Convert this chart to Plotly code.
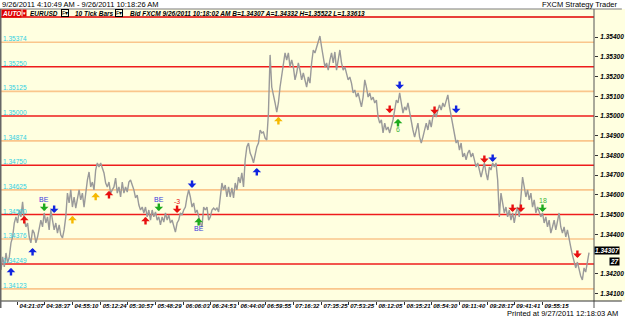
import plotly.graph_objects as go

# ---- 10-tick bar closes, EURUSD ----
close_0410_0607 = [
    1.34219, 1.34285, 1.34234, 1.34305, 1.34254, 1.34285, 1.34356, 1.34386, 1.34457, 1.34488,
    1.34457, 1.34523, 1.34488, 1.34564, 1.34472, 1.34437, 1.34457, 1.34386, 1.34356, 1.34422,
    1.34406, 1.34356, 1.34386, 1.34422, 1.34472, 1.34437, 1.34508, 1.34457, 1.34488, 1.34422,
    1.34523, 1.34472, 1.34422, 1.34457, 1.34406, 1.34447, 1.34396, 1.34381, 1.34422, 1.34488,
    1.34609, 1.34559, 1.34625, 1.34538, 1.34589, 1.34533, 1.34584, 1.34625, 1.34574, 1.34609,
    1.34538, 1.34625, 1.34675, 1.34716, 1.34640, 1.34665, 1.34625, 1.34726, 1.34762, 1.34741,
    1.34762, 1.34736, 1.34711, 1.34660, 1.34640, 1.34665, 1.34609, 1.34625, 1.34640, 1.34685,
    1.34609, 1.34640, 1.34589, 1.34665, 1.34609, 1.34640, 1.34614, 1.34665, 1.34675, 1.34650,
    1.34625, 1.34584, 1.34599, 1.34548, 1.34523, 1.34538, 1.34508, 1.34538, 1.34488, 1.34523,
    1.34472, 1.34523, 1.34488, 1.34513, 1.34472, 1.34488, 1.34447, 1.34488, 1.34462, 1.34508,
]
close_0607_0700 = [
    1.34472, 1.34498, 1.34457, 1.34472, 1.34447, 1.34411, 1.34457, 1.34472, 1.34508, 1.34498,
    1.34523, 1.34538, 1.34589, 1.34625, 1.34589, 1.34538, 1.34559, 1.34508, 1.34523, 1.34488,
    1.34457, 1.34437, 1.34538, 1.34523, 1.34538, 1.34472, 1.34488, 1.34523, 1.34533, 1.34523,
    1.34533, 1.34513, 1.34589, 1.34660, 1.34625, 1.34650, 1.34589, 1.34640, 1.34589, 1.34635,
    1.34584, 1.34660, 1.34625, 1.34690, 1.34660, 1.34711, 1.34640, 1.34777, 1.34843, 1.34863,
    1.34812, 1.34792, 1.34762, 1.34812, 1.34843, 1.34863, 1.34929, 1.34914, 1.34919, 1.34888,
    1.34878, 1.35015,
]
close_0700_0812 = [
    1.35310, 1.35147, 1.35096, 1.35066, 1.35020, 1.35066, 1.35147, 1.35198, 1.35269, 1.35320,
    1.35284, 1.35320, 1.35249, 1.35284, 1.35249, 1.35183, 1.35218, 1.35269, 1.35233, 1.35183,
    1.35218, 1.35183, 1.35147, 1.35198, 1.35167, 1.35269, 1.35335, 1.35320, 1.35350, 1.35386,
    1.35406, 1.35350, 1.35299, 1.35249, 1.35269, 1.35233, 1.35284, 1.35320, 1.35269, 1.35325,
    1.35233, 1.35299, 1.35335, 1.35269, 1.35233, 1.35249, 1.35218, 1.35183, 1.35198, 1.35167,
    1.35117, 1.35132, 1.35096, 1.35117, 1.35081, 1.35046, 1.35096, 1.35183, 1.35147, 1.35096,
    1.35117, 1.35081, 1.35096, 1.35066, 1.35081, 1.34995, 1.34964, 1.34980, 1.34914, 1.34964,
    1.34929, 1.34944, 1.34914, 1.34944, 1.34980, 1.35030, 1.35081, 1.35066, 1.35117, 1.35066,
    1.35015, 1.35046, 1.35030, 1.35066, 1.35015, 1.34980, 1.34929, 1.34893, 1.34929,
]
close_0812_0918 = [
    1.34964, 1.34893, 1.34863, 1.34893, 1.34929, 1.34964, 1.34929, 1.34980, 1.34944, 1.34995,
    1.35015, 1.34995, 1.35030, 1.35056, 1.35030, 1.35066, 1.35046, 1.35081, 1.35107, 1.35046,
    1.34995, 1.34964, 1.34893, 1.34863, 1.34878, 1.34827, 1.34863, 1.34792, 1.34812, 1.34777,
    1.34812, 1.34827, 1.34792, 1.34812, 1.34777, 1.34741, 1.34762, 1.34726, 1.34690, 1.34726,
    1.34762, 1.34711, 1.34675, 1.34741, 1.34726, 1.34762, 1.34741, 1.34762, 1.34675, 1.34488,
]
close_0918_1018 = [
    1.34609, 1.34559, 1.34508, 1.34538, 1.34488, 1.34523, 1.34472, 1.34508, 1.34457, 1.34508,
    1.34538, 1.34488, 1.34609, 1.34690, 1.34640, 1.34589, 1.34625, 1.34574, 1.34609, 1.34538,
    1.34574, 1.34508, 1.34538, 1.34508, 1.34488, 1.34508, 1.34457, 1.34488, 1.34437, 1.34472,
    1.34406, 1.34437, 1.34472, 1.34422, 1.34457, 1.34508, 1.34437, 1.34406, 1.34437, 1.34386,
    1.34422, 1.34371, 1.34335, 1.34295, 1.34254, 1.34229, 1.34259, 1.34219, 1.34188, 1.34168,
    1.34229, 1.34208, 1.34259, 1.34307,
]
closes = close_0410_0607 + close_0607_0700 + close_0700_0812 + close_0812_0918 + close_0918_1018
bars = list(range(len(closes)))

# ---- levels ----
red_levels = [1.35250, 1.35000, 1.34750, 1.34500, 1.34249]
orange_levels = [1.35374, 1.35125, 1.34874, 1.34625, 1.34376, 1.34123]

# ---- axes ----
time_tick_bars = [10, 26, 43, 60, 76, 93, 110, 126, 143, 159, 176, 193, 209, 226, 243, 259, 276, 293, 309, 326]
time_tick_labels = ["04:21:07", "04:38:37", "04:55:10", "05:12:24", "05:30:57", "05:48:29", "06:06:03",
                    "06:24:53", "06:44:00", "06:59:55", "07:16:32", "07:35:25", "07:53:25", "08:12:05",
                    "08:35:21", "08:54:30", "09:11:40", "09:28:17", "09:41:41", "09:55:15"]
price_ticks = [1.341, 1.342, 1.343, 1.344, 1.345, 1.346, 1.347, 1.348, 1.349, 1.350, 1.351, 1.352, 1.353, 1.354]
# the 1.34300 label is hidden behind the last-price box in the original
price_tick_labels = ["1.34100", "1.34200", "", "1.34400", "1.34500", "1.34600", "1.34700",
                     "1.34800", "1.34900", "1.35000", "1.35100", "1.35200", "1.35300", "1.35400"]

# ---- strategy signals ----
sig_bar = [6, 14, 19, 26, 32, 43, 57, 65, 87, 95, 106, 115, 119, 154, 167,
           234, 240, 239, 261, 274, 291, 296, 308, 313, 326, 347]
sig_price = [1.34229, 1.34493, 1.34330, 1.34518, 1.34508, 1.34493, 1.34610, 1.34620, 1.34488, 1.34518,
             1.34508, 1.34635, 1.34483, 1.34736, 1.34995, 1.35015, 1.35137, 1.34985, 1.35010, 1.35015,
             1.34762, 1.34767, 1.34513, 1.34513, 1.34513, 1.34280]
sig_dir = ["up", "up", "up", "down", "down", "up", "up", "up", "up", "down",
           "down", "down", "up", "up", "up", "down", "down", "up", "down", "down",
           "down", "down", "down", "down", "down", "down"]
sig_kind = ["blue", "red", "blue", "green", "blue", "yellow", "yellow", "red", "red", "green",
            "red", "blue", "green", "blue", "yellow", "red", "blue", "green", "red", "blue",
            "red", "blue", "red", "red", "green", "red"]
sig_text = ["", "", "", "BE", "", "", "", "", "", "BE",
            "-3", "", "BE", "", "", "", "", "6", "", "",
            "", "", "", "", "18", ""]

arrow_colors = {"blue": "#1024E0", "red": "#E81010", "green": "#1EAA1E", "yellow": "#F5B800"}
text_colors = {"BE": "#3A3ADC", "-3": "#E81010", "6": "#3CB43C", "18": "#3CB43C"}

BG = "#FFFFE0"
W, H = 625, 317
ML, MR, MT, MB = 1, 28, 17, 16
PW, PH = W - ML - MR, H - MT - MB
FONT = "Liberation Sans"


def px_x(px):
    return (px - ML) / PW


def px_y(py):
    return (H - MB - py) / PH


fig = go.Figure()
fig.add_trace(go.Scatter(x=bars, y=closes, mode="lines",
                         line=dict(color="#9A9A9A", width=1.4), hoverinfo="skip"))

shapes = [
    # white title strip and footer
    dict(type="rect", xref="paper", yref="paper", x0=px_x(-5), x1=px_x(630), y0=px_y(9), y1=px_y(-5),
         fillcolor="white", line=dict(width=0), layer="below"),
    dict(type="rect", xref="paper", yref="paper", x0=px_x(-5), x1=px_x(630), y0=px_y(322), y1=px_y(301),
         fillcolor="white", line=dict(width=0), layer="below"),
    # frame lines
    dict(type="line", xref="paper", yref="paper", x0=px_x(0), x1=px_x(625), y0=px_y(9), y1=px_y(9),
         line=dict(color="#7A7A7A", width=1)),
    dict(type="line", xref="paper", yref="paper", x0=px_x(0), x1=px_x(597), y0=1, y1=1,
         line=dict(color="#E00000", width=1.5)),
    dict(type="line", xref="paper", yref="paper", x0=px_x(597), x1=px_x(597), y0=px_y(308), y1=px_y(9),
         line=dict(color="#555555", width=1)),
    dict(type="line", xref="paper", yref="paper", x0=px_x(0), x1=px_x(625), y0=px_y(301), y1=px_y(301),
         line=dict(color="#333333", width=1)),
    dict(type="line", xref="paper", yref="paper", x0=px_x(0.5), x1=px_x(0.5), y0=px_y(308), y1=px_y(9),
         line=dict(color="#666666", width=2)),
]
for lv in red_levels:
    shapes.append(dict(type="line", xref="paper", yref="y", x0=0, x1=1, y0=lv, y1=lv,
                       line=dict(color="#EE1C1C", width=1.6), layer="below"))
for lv in orange_levels:
    shapes.append(dict(type="line", xref="paper", yref="y", x0=0, x1=1, y0=lv, y1=lv,
                       line=dict(color="#FAC68C", width=1.6), layer="below"))

ann = []
for lv in sorted(red_levels + orange_levels, reverse=True):
    ann.append(dict(xref="paper", yref="y", x=0.0, y=lv, xanchor="left", yanchor="bottom",
                    text=f"{lv:.5f}", showarrow=False, yshift=-2,
                    font=dict(family=FONT, size=6.5, color="#30D0E0")))

for b, p, d, k, t in zip(sig_bar, sig_price, sig_dir, sig_kind, sig_text):
    ay = 9 if d == "up" else -9
    ann.append(dict(x=b, y=p, xref="x", yref="y", text="", showarrow=True, ax=0, ay=ay,
                    arrowhead=1, arrowwidth=2.4, arrowsize=0.6, arrowcolor=arrow_colors[k], standoff=0))
    if t:
        ann.append(dict(x=b, y=p, xref="x", yref="y", text=t, showarrow=False,
                        yshift=-(ay + 2) if d == "up" else (-ay + 2),
                        font=dict(family=FONT, size=7, color=text_colors[t])))

hdr_font = dict(family=FONT, size=6.5, color="black", weight="bold", style="italic")
plain = dict(family=FONT, size=7.5, color="black")
ann += [
    dict(xref="paper", yref="paper", x=px_x(0), y=px_y(4.5), xanchor="left", yanchor="middle",
         text="9/26/2011 4:10:49 AM - 9/26/2011 10:18:26 AM", showarrow=False, font=plain),
    dict(xref="paper", yref="paper", x=px_x(623), y=px_y(4.5), xanchor="right", yanchor="middle",
         text="FXCM Strategy Trader", showarrow=False, font=plain),
    dict(xref="paper", yref="paper", x=px_x(623), y=px_y(313), xanchor="right", yanchor="middle",
         text="Printed at 9/27/2011 12:18:03 AM", showarrow=False, font=plain),
    dict(xref="paper", yref="paper", x=px_x(1), y=px_y(13.3), xanchor="left", yanchor="middle",
         text="AUTO", showarrow=False, bgcolor="#E00000", borderpad=0,
         font=dict(family=FONT, size=6.5, color="white", weight="bold", style="italic")),
    dict(xref="paper", yref="paper", x=px_x(22), y=px_y(13.3), xanchor="left", yanchor="middle",
         text="▾", showarrow=False, bgcolor="#E00000", borderpad=0,
         font=dict(family="DejaVu Sans", size=5, color="white")),
    dict(xref="paper", yref="paper", x=px_x(28), y=px_y(13.3), xanchor="left", yanchor="middle",
         text="EURUSD", showarrow=False, font=hdr_font),
    dict(xref="paper", yref="paper", x=px_x(61), y=px_y(13.3), xanchor="left", yanchor="middle",
         text="F▾", showarrow=False, bordercolor="black", borderwidth=1, borderpad=0,
         font=dict(family=FONT, size=5.5, color="black")),
    dict(xref="paper", yref="paper", x=px_x(73), y=px_y(13.3), xanchor="left", yanchor="middle",
         text="10 Tick Bars", showarrow=False, font=hdr_font),
    dict(xref="paper", yref="paper", x=px_x(116), y=px_y(13.3), xanchor="left", yanchor="middle",
         text="F▾", showarrow=False, bordercolor="black", borderwidth=1, borderpad=0,
         font=dict(family=FONT, size=5.5, color="black")),
    dict(xref="paper", yref="paper", x=px_x(129), y=px_y(13.3), xanchor="left", yanchor="middle",
         text="Bid FXCM 9/26/2011 10:18:02 AM B=1.34307 A=1.34332 H=1.35522 L=1.33613",
         showarrow=False, font=hdr_font),
    dict(xref="paper", yref="y", x=px_x(623), y=closes[-1], xanchor="right", yanchor="middle",
         text="1.34307", showarrow=False, bgcolor="black", borderpad=0, yshift=2,
         font=dict(family=FONT, size=6.5, color="white", weight="bold", style="italic")),
    dict(xref="paper", yref="y", x=px_x(623), y=closes[-1], xanchor="right", yanchor="middle",
         text="27", showarrow=False, bgcolor="black", borderpad=0, yshift=-9,
         font=dict(family=FONT, size=6.5, color="white", weight="bold", style="italic")),
]

axis_font = dict(family=FONT, size=6, color="black", weight="bold", style="italic")
yaxis_font = dict(family=FONT, size=6.5, color="black", weight="bold", style="italic")
fig.update_layout(
    width=W, height=H, margin=dict(l=ML, r=MR, t=MT, b=MB),
    paper_bgcolor=BG, plot_bgcolor=BG, showlegend=False,
    annotations=ann, shapes=shapes,
    xaxis=dict(range=[0, 357], showgrid=False, zeroline=False, tickmode="array",
               tickvals=time_tick_bars, ticktext=time_tick_labels, ticks="outside", ticklen=3,
               tickcolor="#333333", tickfont=axis_font, tickangle=0, ticklabelshift=14,
               ticklabelstandoff=-4, showline=False, fixedrange=True),
    yaxis=dict(range=[1.340613, 1.355023], side="right", showgrid=False, zeroline=False,
               tickmode="array", tickvals=price_ticks, ticktext=price_tick_labels,
               ticks="outside", ticklen=3, tickcolor="#333333", tickfont=yaxis_font,
               ticklabelstandoff=1, showline=False, fixedrange=True),
)

fig.write_html("out.html")
